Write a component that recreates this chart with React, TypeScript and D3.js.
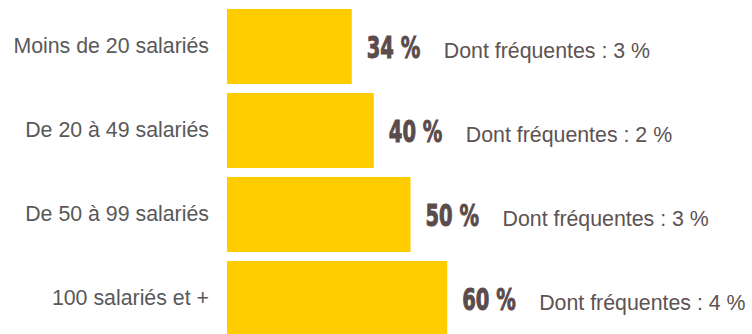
import React from "react";
import * as d3 from "d3";

const categories = [
  "Moins de 20 salariés",
  "De 20 à 49 salariés",
  "De 50 à 99 salariés",
  "100 salariés et +",
];
const values = [34, 40, 50, 60];
const frequentes = [3, 2, 3, 4];

const W = 752;
const H = 334;

export default function App() {
  const x = d3.scaleLinear().domain([0, 100]).range([227, 594]);
  const y = d3
    .scaleBand<number>()
    .domain(d3.range(categories.length))
    .range([9, 336])
    .paddingInner(9 / 84)
    .paddingOuter(0);

  return (
    <svg
      width={W}
      height={H}
      style={{ position: "absolute", left: 0, top: 0, background: "#fff" }}
    >
      {categories.map((c, i) => {
        const y0 = y(i)!;
        const bh = y.bandwidth();
        const cy = y0 + bh / 2;
        const x1 = x(values[i]);
        return (
          <g key={c}>
            <rect x={x(0)} y={y0} width={x1 - x(0)} height={bh} fill="#FFCC00" />
            <text
              x={209}
              y={cy + 6}
              textAnchor="end"
              fontFamily="'Liberation Sans', Arial, sans-serif"
              fontSize={21.33}
              fill="#595959"
            >
              {c}
            </text>
            <text
              transform={`translate(${x1 + 15},${cy + 11.8}) scale(0.64,1)`}
              fontFamily="'DejaVu Sans', sans-serif"
              fontWeight="bold"
              fontSize={30.5}
              fill="#5b4b4b"
              stroke="#5b4b4b"
              strokeWidth={1}
            >
              {`${values[i]} %`}
            </text>
            <text
              x={x1 + 92}
              y={cy + 11.8}
              fontFamily="'Liberation Sans', Arial, sans-serif"
              fontSize={21.33}
              fill="#5e5252"
            >
              {`Dont fréquentes : ${frequentes[i]} %`}
            </text>
          </g>
        );
      })}
    </svg>
  );
}
